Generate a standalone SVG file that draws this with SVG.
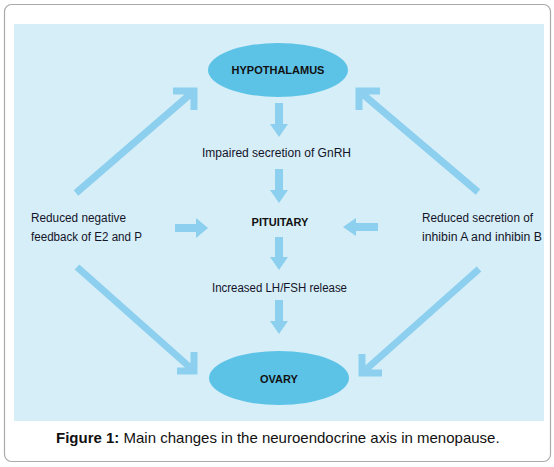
<svg xmlns="http://www.w3.org/2000/svg" width="554" height="467" viewBox="0 0 554 467">
<style>
.node{fill:#5cc3e7}
.lbl{font-family:"Liberation Sans",Arial,sans-serif;font-size:12px;fill:#141428}
.bold{font-family:"Liberation Sans",Arial,sans-serif;font-size:11px;font-weight:bold;fill:#111;text-anchor:middle}
.blk{fill:#8ccfee}
.diag{fill:none;stroke:#8ccfee;stroke-width:7;stroke-linejoin:miter;stroke-linecap:butt}
.cap{font-family:"Liberation Sans",Arial,sans-serif;font-size:15px;fill:#111}
</style>
<rect x="4.5" y="4.5" width="546" height="457" rx="7" fill="#fff" stroke="#aaa" stroke-width="1.2"/>
<rect x="14" y="24" width="530" height="397" fill="#d6eef8"/>
<g id="connectors">
<path class="diag" d="M76,193 L194,91 M173,91 L194,91 L194,110"/>
<path class="diag" d="M77,267 L194,371 M177,371 L194,371 L194,352"/>
<path class="diag" d="M478,192 L359,91 M380,91 L359,91 L359,110"/>
<path class="diag" d="M479,269 L362,373 M382,373 L362,373 L362,354"/>
<polygon class="blk" points="275,103 283,103 283,124 288,124 279,137 270,124 275,124"/>
<polygon class="blk" points="275,169 283,169 283,190 288,190 279,203 270,190 275,190"/>
<polygon class="blk" points="275,237 283,237 283,257 288,257 279,270 270,257 275,257"/>
<polygon class="blk" points="275,300 283,300 283,321 288,321 279,334 270,321 275,321"/>
<polygon class="blk" points="175,224 196,224 196,218 208,228 196,238 196,232 175,232"/>
<polygon class="blk" points="378,223 356,223 356,218 343,227 356,236 356,231 378,231"/>
</g>
<g id="hypothalamus">
<ellipse class="node" cx="278" cy="70" rx="70" ry="27"/>
<text class="bold" x="278" y="73.5">HYPOTHALAMUS</text>
</g>
<g id="gnrh"><text class="lbl" x="202" y="157" textLength="149" lengthAdjust="spacingAndGlyphs">Impaired secretion of GnRH</text></g>
<g id="pituitary"><text class="bold" x="280" y="226">PITUITARY</text></g>
<g id="lhfsh"><text class="lbl" x="212" y="292" textLength="135" lengthAdjust="spacingAndGlyphs">Increased LH/FSH release</text></g>
<g id="ovary">
<ellipse class="node" cx="279" cy="378" rx="70" ry="27"/>
<text class="bold" x="279" y="383">OVARY</text>
</g>
<g id="feedback">
<text class="lbl" x="31" y="222" textLength="95" lengthAdjust="spacingAndGlyphs">Reduced negative</text>
<text class="lbl" x="31" y="241" textLength="111" lengthAdjust="spacingAndGlyphs">feedback of E2 and P</text>
</g>
<g id="inhibin">
<text class="lbl" x="422" y="222" textLength="111" lengthAdjust="spacingAndGlyphs">Reduced secretion of</text>
<text class="lbl" x="422" y="241" textLength="120" lengthAdjust="spacingAndGlyphs">inhibin A and inhibin B</text>
</g>
<text class="cap" x="56" y="443"><tspan font-weight="bold">Figure 1:</tspan> Main changes in the neuroendocrine axis in menopause.</text>
</svg>
